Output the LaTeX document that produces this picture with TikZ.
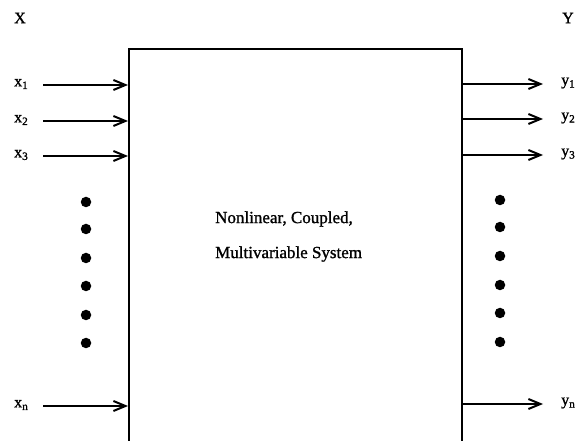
\documentclass[tikz,border=0pt]{standalone}
\usepackage{fontspec}
\setmainfont[FakeBold=1.2,AutoFakeBold=1.2]{Liberation Serif}
\usetikzlibrary{arrows.meta}
\begin{document}
\begin{tikzpicture}[x=1pt,y=-1pt,
  lbl/.style={inner sep=0pt,font=\fontsize{16}{19}\selectfont\bfseries},
  sub/.style={},
  sig/.style={line width=2pt,-{Straight Barb[length=12pt,width=10pt,line width=2pt]}},
  dotmark/.style={circle,fill=black,inner sep=0pt,minimum size=10.5pt},
  sysbox/.style={draw,line width=2pt,inner sep=0pt}]
\useasboundingbox (0,0) rectangle (582,441);
\clip (0,0) rectangle (582,441);
\node[sysbox,minimum width=333pt,minimum height=430pt,anchor=north west] (sys) at (128,48) {};
\node[lbl] (X) at (20,18) {X};
\node[lbl] (Y) at (568,18) {Y};
% inputs
\node[lbl,anchor=west] (x1) at (14,84) {x\textsubscript{1}};
\node[lbl,anchor=west] (x2) at (14,120) {x\textsubscript{2}};
\node[lbl,anchor=west] (x3) at (14,155) {x\textsubscript{3}};
\node[lbl,anchor=west] (xn) at (14,405) {x\textsubscript{n}};
\coordinate (a1) at (43,85);
\coordinate (a2) at (43,121);
\coordinate (a3) at (43,156);
\coordinate (an) at (43,406);
\draw[sig] (a1) -- (sys.west |- a1);
\draw[sig] (a2) -- (sys.west |- a2);
\draw[sig] (a3) -- (sys.west |- a3);
\draw[sig] (an) -- (sys.west |- an);
% outputs
\node[lbl,anchor=west] (y1) at (561,83) {y\textsubscript{1}};
\node[lbl,anchor=west] (y2) at (561,118) {y\textsubscript{2}};
\node[lbl,anchor=west] (y3) at (561,154) {y\textsubscript{3}};
\node[lbl,anchor=west] (yn) at (561,403) {y\textsubscript{n}};
\coordinate (b1) at (543,84);
\coordinate (b2) at (543,119);
\coordinate (b3) at (543,155);
\coordinate (bn) at (543,404);
\draw[sig] (sys.east |- b1) -- (b1);
\draw[sig] (sys.east |- b2) -- (b2);
\draw[sig] (sys.east |- b3) -- (b3);
\draw[sig] (sys.east |- bn) -- (bn);
% dots
\foreach \i/\yy in {1/202,2/229,3/258,4/286,5/315,6/343} {
  \node[dotmark] (l\i) at (86,\yy) {};
}
\foreach \i/\yy in {1/200,2/227,3/256,4/285,5/313,6/342} {
  \node[dotmark] (r\i) at (500,\yy) {};
}
% text
\node[inner sep=0pt,anchor=west,font=\fontsize{17}{20}\selectfont] (t1) at (215,219) {Nonlinear, Coupled,};
\node[inner sep=0pt,anchor=west,font=\fontsize{17}{20}\selectfont] (t2) at (215,254) {Multivariable System};
\end{tikzpicture}
\end{document}
